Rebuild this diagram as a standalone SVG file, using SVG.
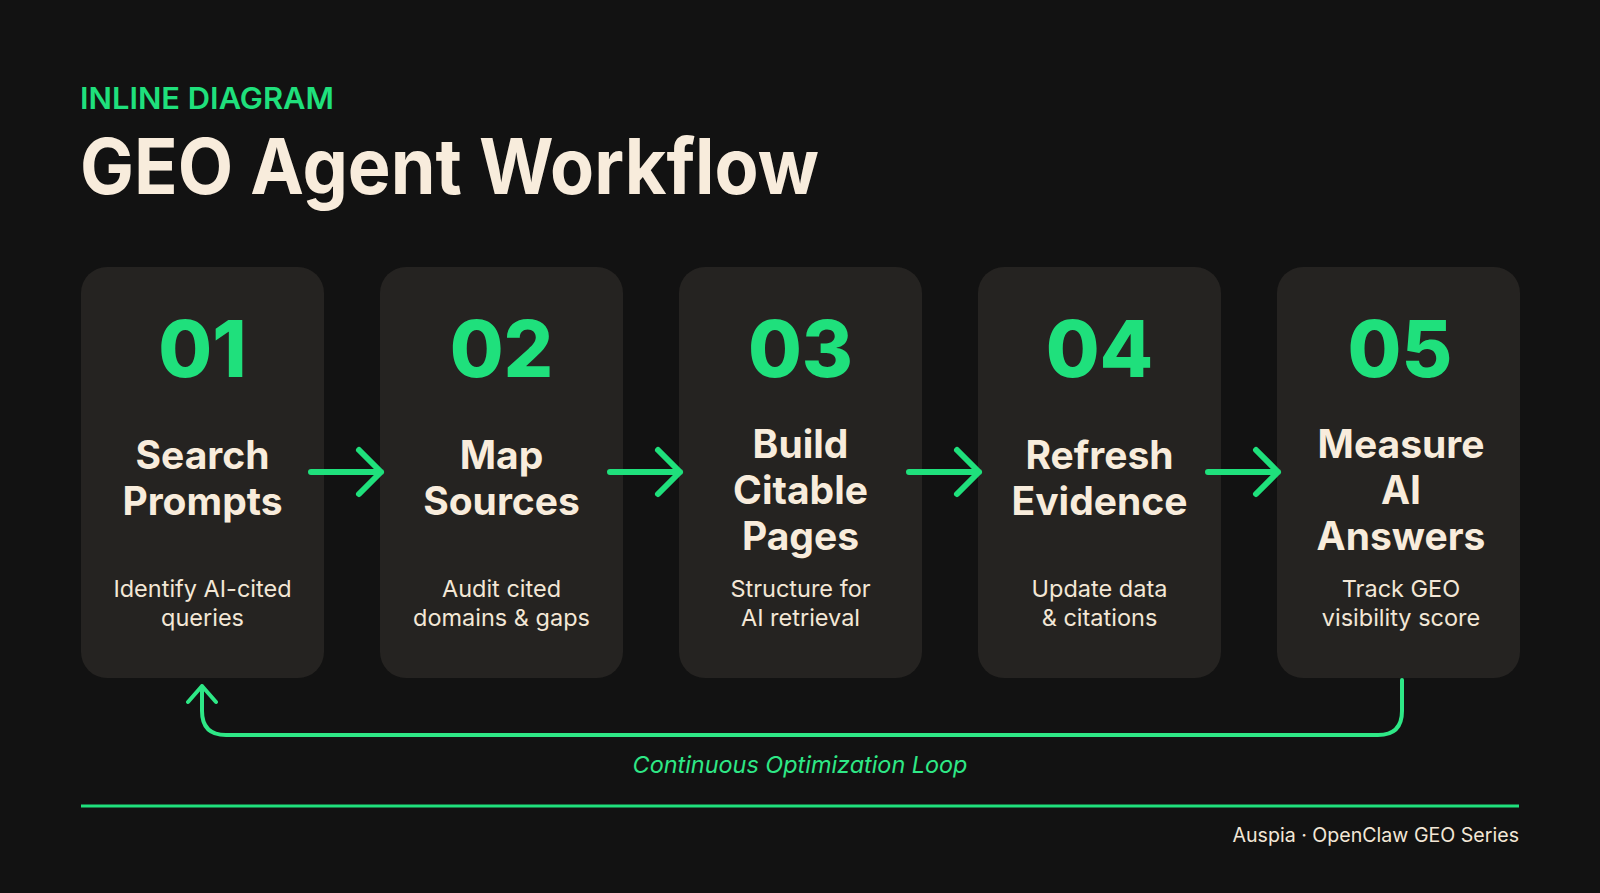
<svg xmlns="http://www.w3.org/2000/svg" width="1600" height="893" viewBox="0 0 1600 893">
<defs>
<style>
.bg{fill:#121212}
.card{fill:#252321}
.kicker{font-family:Inter,"Noto Sans",sans-serif;font-weight:600;font-size:30px;fill:#1fe07c}
.title{font-family:Inter,"Noto Sans",sans-serif;font-weight:700;font-size:77px;fill:#f8ecdc}
.num{font-family:Inter,"Noto Sans",sans-serif;font-weight:800;font-size:78px;fill:#1fe07c;text-anchor:middle}
.head{font-family:Inter,"Noto Sans",sans-serif;font-weight:700;font-size:39px;fill:#f8ecdc;text-anchor:middle}
.desc{font-family:Inter,"Noto Sans",sans-serif;font-weight:400;font-size:23.5px;fill:#f3e7d6;text-anchor:middle}
.conn{fill:none;stroke:#1fe07c;stroke-width:6;stroke-linecap:round;stroke-linejoin:round}
.loop{fill:none;stroke:#2ee886;stroke-width:4;stroke-linecap:round;stroke-linejoin:round}
.loopl{font-family:Inter,"Noto Sans",sans-serif;font-style:italic;font-size:23.4px;fill:#2ee886;text-anchor:middle}
.foot{font-family:Inter,"Noto Sans",sans-serif;font-size:19.6px;fill:#f3e7d6;text-anchor:end}
</style>
</defs>
<rect class="bg" x="0" y="0" width="1600" height="893"/>
<text class="kicker" x="80" y="109" textLength="254" lengthAdjust="spacingAndGlyphs">INLINE DIAGRAM</text>
<text class="title" x="80" y="194" textLength="739" lengthAdjust="spacingAndGlyphs">GEO Agent Workflow</text>

<g id="node1">
<rect class="card" x="81" y="267" width="243" height="411" rx="26"/>
<text class="num" x="202.5" y="377">01</text>
<text class="head" x="202.5" y="469">Search</text>
<text class="head" x="202.5" y="515">Prompts</text>
<text class="desc" x="202.5" y="597">Identify AI-cited</text>
<text class="desc" x="202.5" y="626">queries</text>
</g>
<g id="node2">
<rect class="card" x="380" y="267" width="243" height="411" rx="26"/>
<text class="num" x="501.5" y="377">02</text>
<text class="head" x="501.5" y="469">Map</text>
<text class="head" x="501.5" y="515">Sources</text>
<text class="desc" x="501.5" y="597">Audit cited</text>
<text class="desc" x="501.5" y="626">domains &amp; gaps</text>
</g>
<g id="node3">
<rect class="card" x="679" y="267" width="243" height="411" rx="26"/>
<text class="num" x="800.5" y="377">03</text>
<text class="head" x="800.5" y="458">Build</text>
<text class="head" x="800.5" y="504">Citable</text>
<text class="head" x="800.5" y="550">Pages</text>
<text class="desc" x="800.5" y="597">Structure for</text>
<text class="desc" x="800.5" y="626">AI retrieval</text>
</g>
<g id="node4">
<rect class="card" x="978" y="267" width="243" height="411" rx="26"/>
<text class="num" x="1099.5" y="377">04</text>
<text class="head" x="1099.5" y="469">Refresh</text>
<text class="head" x="1099.5" y="515">Evidence</text>
<text class="desc" x="1099.5" y="597">Update data</text>
<text class="desc" x="1099.5" y="626">&amp; citations</text>
</g>
<g id="node5">
<rect class="card" x="1277" y="267" width="243" height="411" rx="26"/>
<text class="num" x="1400" y="377">05</text>
<text class="head" x="1401" y="458">Measure</text>
<text class="head" x="1401" y="504">AI</text>
<text class="head" x="1401" y="550">Answers</text>
<text class="desc" x="1401" y="597">Track GEO</text>
<text class="desc" x="1401" y="626">visibility score</text>
</g>

<g id="connectors">
<path class="conn" d="M311 472 H381 M359 450 L381 472 L359 494"/>
<path class="conn" d="M610 472 H680 M658 450 L680 472 L658 494"/>
<path class="conn" d="M909 472 H979 M957 450 L979 472 L957 494"/>
<path class="conn" d="M1208 472 H1278 M1256 450 L1278 472 L1256 494"/>
<path class="loop" d="M1402 680 V711 Q1402 735 1378 735 H226 Q202 735 202 711 V686 M188 702 L202 686 L216 702"/>
<text class="loopl" x="800" y="773">Continuous Optimization Loop</text>
</g>

<line x1="81" y1="806" x2="1519" y2="806" stroke="#1fe07c" stroke-width="3"/>
<text class="foot" x="1519" y="842">Auspia · OpenClaw GEO Series</text>
</svg>
